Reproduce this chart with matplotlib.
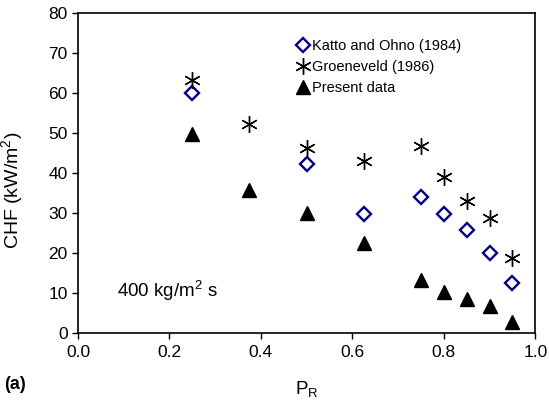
import numpy as np
import matplotlib
matplotlib.use('Agg')
import matplotlib.pyplot as plt

plt.rcParams['font.family'] = ['Liberation Sans', 'DejaVu Sans']

pr = [0.25, 0.375, 0.5, 0.625, 0.75, 0.8, 0.85, 0.9, 0.95]
# the Katto point at 0.375 sits hidden under the asterisk
katto = [60.0, np.nan, 42.3, 29.7, 34.0, 29.7, 25.6, 20.0, 12.5]
groeneveld = [63.3, 52.3, 46.3, 43.0, 46.6, 39.0, 33.0, 28.6, 18.6]
present = [49.8, 35.8, 30.0, 22.5, 13.3, 10.3, 8.5, 6.8, 2.8]

fig = plt.figure(figsize=(5.49, 4.01), dpi=100)
ax = fig.add_axes([0.142, 0.170, 0.833, 0.798])

ax.plot(pr, katto, 'D', mfc='white', mec='#000080', mew=1.7, ms=7,
        label='Katto and Ohno (1984)')
ax.plot(pr, groeneveld, linestyle='none', marker=(6, 2, 0), color='black',
        mew=1.0, ms=12, label='Groeneveld (1986)')
ax.plot(pr, present, '^', color='black', ms=10, label='Present data')

ax.set_xlim(0, 1.0)
ax.set_ylim(0, 80)
ax.set_xticks([0.0, 0.2, 0.4, 0.6, 0.8, 1.0])
ax.set_xticklabels(['0.0', '0.2', '0.4', '0.6', '0.8', '1.0'])
ax.set_yticks(range(0, 81, 10))
ax.tick_params(direction='out', length=4, width=1, labelsize=12.5)
ax.tick_params(axis='x', pad=5)
for s in ax.spines.values():
    s.set_linewidth(1.2)

ax.set_xlabel('P$_\\mathregular{R}$', fontsize=13.5)
ax.xaxis.set_label_coords(0.5, -0.145)
ax.set_ylabel('CHF (kW/m$^\\mathregular{2}$)', fontsize=14)
ax.yaxis.set_label_coords(-0.114, 0.447)

ax.legend(loc='upper left', bbox_to_anchor=(0.447, 0.96), frameon=False,
          fontsize=10.5, handletextpad=0.15, handlelength=1.0,
          labelspacing=0.5)

ax.text(0.085, 9.0, '400 kg/m$^\\mathregular{2}$ s', fontsize=13.5)
fig.text(0.008, 0.03, '(a)', fontsize=13, fontweight='bold')

fig.savefig('out.png', dpi=100)
